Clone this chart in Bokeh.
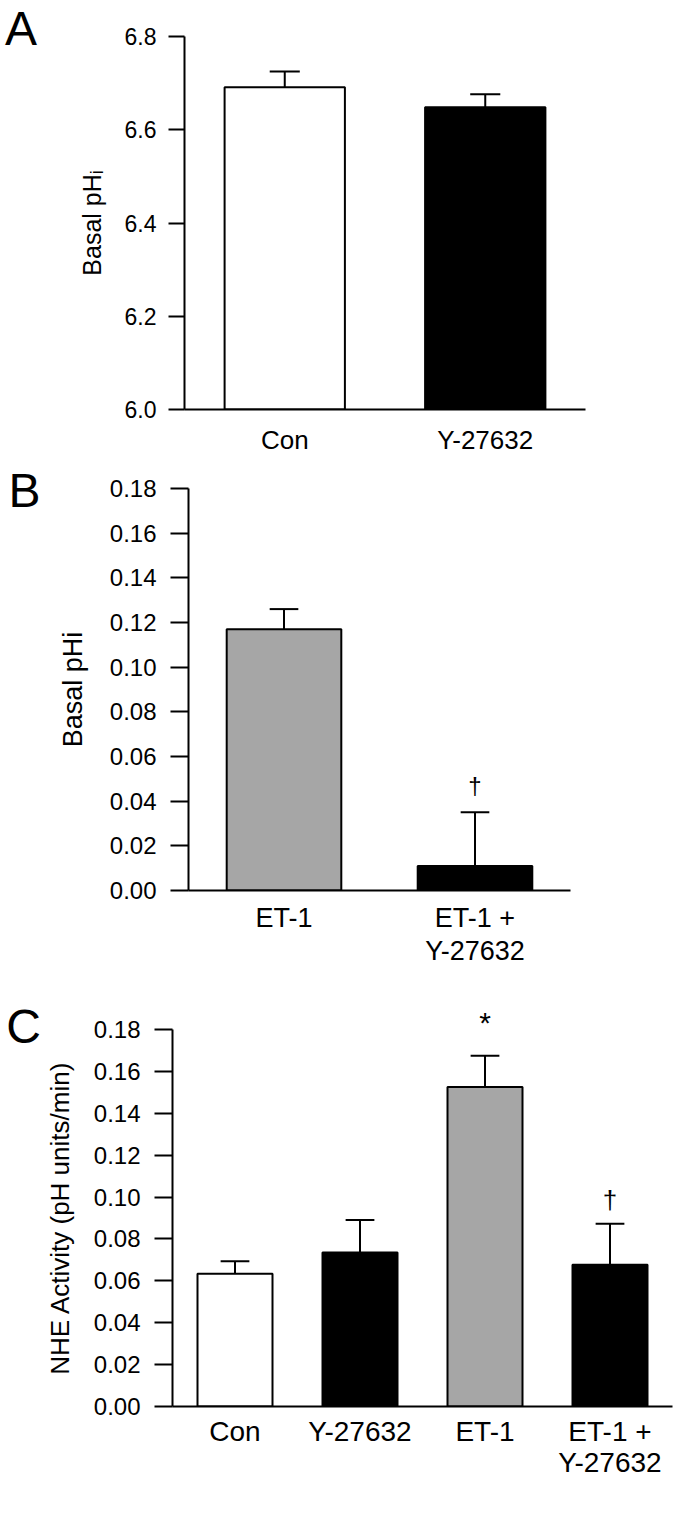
import math
from bokeh.plotting import figure
from bokeh.models import FixedTicker, NumeralTickFormatter, Label, Range1d, ColumnDataSource
from bokeh.embed import file_html
from bokeh.resources import INLINE

FONT = "Liberation Sans"

# ---------------- data ----------------
# Panel A
a_labels = ["Con", "Y-27632"]
a_means = [6.691, 6.648]
a_sem = [0.034, 0.028]
a_colors = ["white", "black"]
a_yticks = [6.0, 6.2, 6.4, 6.6, 6.8]

# Panel B
b_labels = ["ET-1", "ET-1 +\nY-27632"]
b_means = [0.117, 0.011]
b_sem = [0.009, 0.024]
b_colors = ["#a6a6a6", "black"]
b_marks = ["", "\u2020"]
b_yticks = [0.00, 0.02, 0.04, 0.06, 0.08, 0.10, 0.12, 0.14, 0.16, 0.18]

# Panel C
c_labels = ["Con", "Y-27632", "ET-1", "ET-1 +\nY-27632"]
c_means = [0.0634, 0.0735, 0.1525, 0.0677]
c_sem = [0.0060, 0.0155, 0.0150, 0.0196]
c_colors = ["white", "black", "#a6a6a6", "black"]
c_marks = ["", "", "*", "\u2020"]
c_yticks = [0.00, 0.02, 0.04, 0.06, 0.08, 0.10, 0.12, 0.14, 0.16, 0.18]


def base_fig(fw, fh, left, right, top, bottom, xr, yr):
    p = figure(width=left + fw + right, height=top + fh + bottom,
               x_range=Range1d(*xr), y_range=Range1d(*yr),
               output_backend="svg", toolbar_location=None,
               min_border_left=left, min_border_right=right,
               min_border_top=top, min_border_bottom=bottom)
    p.xgrid.visible = False
    p.ygrid.visible = False
    p.outline_line_color = None
    p.background_fill_color = "white"
    p.border_fill_color = "white"
    return p


def style_axes(p, xs, labels, yticks, yfmt, ytick_size, xlab_size, tick_out, ystand, xstand,
               line_h=1.1):
    ya = p.yaxis[0]
    ya.ticker = FixedTicker(ticks=yticks)
    ya.formatter = NumeralTickFormatter(format=yfmt)
    ya.major_tick_out = tick_out
    ya.major_tick_in = 0
    ya.minor_tick_line_color = None
    ya.axis_line_width = 2
    ya.major_tick_line_width = 2
    ya.axis_line_color = "black"
    ya.major_tick_line_color = "black"
    ya.major_label_text_font = FONT
    ya.major_label_text_font_size = ytick_size
    ya.major_label_text_color = "black"
    ya.major_label_standoff = ystand
    ya.axis_label_text_font = FONT
    ya.axis_label_text_font_style = "normal"
    ya.axis_label_text_color = "black"

    xa = p.xaxis[0]
    xa.ticker = FixedTicker(ticks=xs)
    xa.major_label_overrides = {x: l for x, l in zip(xs, labels)}
    xa.major_tick_line_color = None
    xa.major_tick_out = 0
    xa.major_tick_in = 0
    xa.minor_tick_line_color = None
    xa.axis_line_width = 2
    xa.axis_line_color = "black"
    xa.major_label_text_font = FONT
    xa.major_label_text_font_size = xlab_size
    xa.major_label_text_color = "black"
    xa.major_label_text_line_height = line_h
    xa.major_label_standoff = xstand


def draw_bars(p, xs, means, sem, colors, base, width, cap):
    tops = [m + s for m, s in zip(means, sem)]
    src = ColumnDataSource(dict(x=xs, m=means, t=tops, c=colors,
                                x0=[x - cap for x in xs], x1=[x + cap for x in xs]))
    p.segment(x0="x", y0="m", x1="x", y1="t", source=src, line_color="black", line_width=2)
    p.segment(x0="x0", y0="t", x1="x1", y1="t", source=src, line_color="black", line_width=2)
    p.vbar(x="x", top="m", bottom=base, width=width, fill_color="c", line_color="black",
           line_width=2, source=src)
    return tops


def add_text(p, place=None, **kw):
    # labels outside the frame go to a side panel so that they are not clipped
    kw.setdefault("text_font", FONT)
    kw.setdefault("text_color", "black")
    lab = Label(**kw)
    if place:
        p.add_layout(lab, place)
    else:
        p.add_layout(lab)


def panel_letter(p, text, x, y):
    add_text(p, "left", x=x, y=y, text=text, text_font_size="48px",
             text_baseline="middle", text_align="left")


# ---------------- Panel A ----------------
a_x = [1, 3]
pa = base_fig(401, 373, 184, 102, 36, 51, (0, 4), (6.0, 6.8))
style_axes(pa, a_x, a_labels, a_yticks, "0.0", "23px", "26px", 16, 12, 15)
pa.yaxis[0].axis_label = "Basal pH\u1d62"
pa.yaxis[0].axis_label_text_font_size = "25px"
pa.yaxis[0].axis_label_standoff = 16
draw_bars(pa, a_x, a_means, a_sem, a_colors, 6.0, 1.2, 0.15)
panel_letter(pa, "A", -1.79, 6.818)

# ---------------- Panel B ----------------
b_x = [1, 3]
pb = base_fig(382, 402, 188, 117, 28, 82, (0, 4), (0.0, 0.18))
style_axes(pb, b_x, b_labels, b_yticks, "0.00", "24px", "27px", 18, 14, 12)
pb.yaxis[0].axis_label = "Basal pHi"
pb.yaxis[0].axis_label_text_font_size = "27px"
pb.yaxis[0].axis_label_standoff = 19
b_tops = draw_bars(pb, b_x, b_means, b_sem, b_colors, 0.0, 1.2, 0.15)
for x, t, mk in zip(b_x, b_tops, b_marks):
    if mk:
        add_text(pb, x=x, y=t, y_offset=27, text=mk, text_font_size="24px",
                 text_align="center", text_baseline="middle")
panel_letter(pb, "B", -1.885, 0.1789)

# ---------------- Panel C ----------------
c_x = [0.5, 1.5, 2.5, 3.5]
pc = base_fig(500, 377, 172, 15, 57, 109, (0, 4), (0.0, 0.18))
style_axes(pc, c_x, c_labels, c_yticks, "0.00", "24px", "28px", 18, 14, 9, line_h=1.0)
pc.yaxis[0].axis_label = "NHE Activity (pH units/min)"
pc.yaxis[0].axis_label_text_font_size = "26px"
pc.yaxis[0].axis_label_standoff = 16
c_tops = draw_bars(pc, c_x, c_means, c_sem, c_colors, 0.0, 0.6, 0.115)
for x, t, mk in zip(c_x, c_tops, c_marks):
    if mk == "*":
        add_text(pc, "above", x=x, y=t, y_offset=33, text=mk, text_font_size="30px",
                 text_align="center", text_baseline="middle")
    elif mk:
        add_text(pc, x=x, y=t, y_offset=24, text=mk, text_font_size="26px",
                 text_align="center", text_baseline="middle")
panel_letter(pc, "C", -1.33, 0.1814)

open("out.html", "w").write(file_html([pa, pb, pc], INLINE))
